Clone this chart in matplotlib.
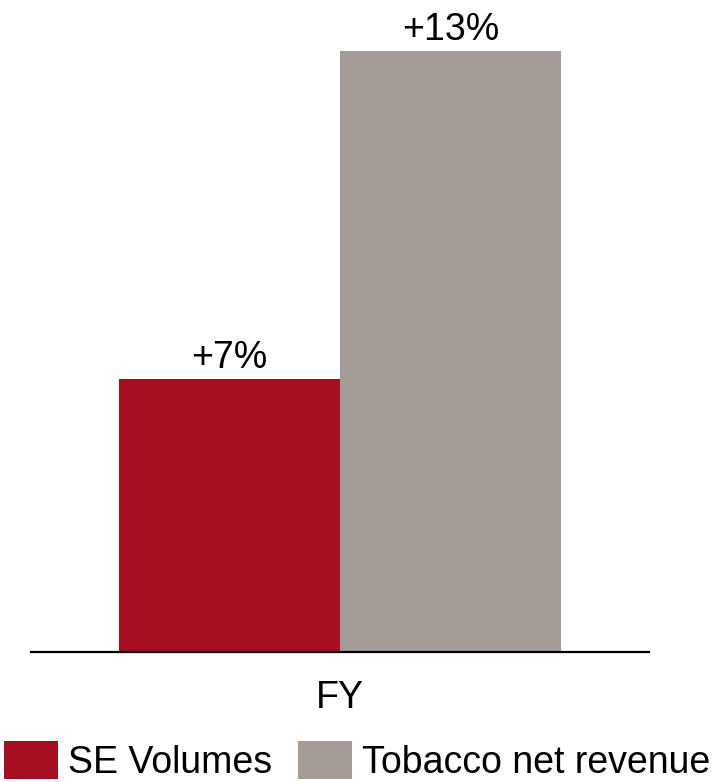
import matplotlib
matplotlib.use("Agg")
import matplotlib.pyplot as plt
from matplotlib.patches import Patch

plt.rcParams['font.family'] = ['Liberation Sans', 'DejaVu Sans']

category = "FY"
series_names = ["SE Volumes", "Tobacco net revenue"]
bar_heights = [5.9, 13.0]
value_labels = ["+7%", "+13%"]
colors = ["#A60E21", "#A49B96"]

fig = plt.figure(figsize=(7.12, 7.82), dpi=100)
ax = fig.add_axes([31/712, 1 - 652/782, 618/712, 652/782])

bw = 0.715
offsets = [-bw, 0.0]
for off, h, lab, c in zip(offsets, bar_heights, value_labels, colors):
    ax.bar(off, h, width=bw, align='edge', color=c, edgecolor='none')
    ax.annotate(lab, (off + bw/2, h), xytext=(0, 8), textcoords='offset points',
                ha='center', va='baseline', fontsize=27, color='black')

ax.set_xlim(-1, 1)
ax.set_ylim(0, 13 * 652 / 601)
for s in ['top', 'right', 'left']:
    ax.spines[s].set_visible(False)
ax.spines['bottom'].set_linewidth(1.6)
ax.spines['bottom'].set_color('black')
ax.set_yticks([])
ax.set_xticks([0])
ax.set_xticklabels([category], fontsize=27)
ax.tick_params(axis='x', length=0, pad=20)

handles = [Patch(facecolor=c, edgecolor='none') for c in colors]
fig.legend(handles, series_names, loc='center', bbox_to_anchor=(357/712, 1 - 761/782),
           ncol=2, frameon=False, fontsize=27, handlelength=1.44, handleheight=1.15,
           handletextpad=0.27, columnspacing=0.67, borderpad=0, borderaxespad=0)

fig.savefig("out.png", dpi=100)
